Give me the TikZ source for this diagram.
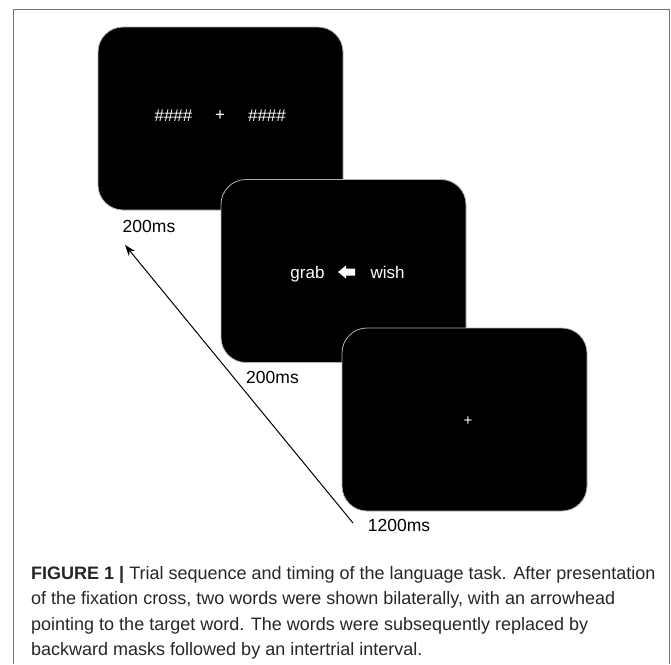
\documentclass[tikz,border=0pt]{standalone}
\usepackage{fontspec}
\setmainfont{Liberation Sans}
\usetikzlibrary{arrows.meta}
\begin{document}
\begin{tikzpicture}[x=1pt,y=-1pt,
  frameline/.style={draw=black!55,line width=1.3pt},
  screen/.style={fill=black,draw=black!30,line width=0.8pt,rounded corners=25pt,
    minimum width=245pt,minimum height=183pt,inner sep=0pt,outer sep=0pt},
  scrtext/.style={text=white,font=\fontsize{17}{20}\selectfont,inner sep=0pt},
  timelabel/.style={text=black,font=\fontsize{17.5}{21}\selectfont,inner sep=0pt},
  timearrow/.style={-{Stealth[length=11pt,width=8pt]},line width=1pt,black},
  captext/.style={anchor=base west,align=left,inner sep=0pt,text=black!85,
    font=\fontsize{18}{25.4}\selectfont}]
\useasboundingbox (0,0) rectangle (671,664);
% outer frame
\draw[frameline] (13.5,664) -- (13.5,9.5) -- (669.5,9.5) -- (669.5,664);
% screens
\node[screen] (s1) at (220.5,118.5) {};
\node[screen] (s2) at (343.5,271) {};
\node[screen] (s3) at (464.5,419.5) {};
% screen 1 content
\node[scrtext] (m1) at (173.5,116) {\#\#\#\#};
\node[scrtext] (c1) at (220,116) {+};
\node[scrtext] (m2) at (267,116) {\#\#\#\#};
% screen 2 content
\node[scrtext,anchor=base] (w1) at (307.5,278) {grab};
\node[scrtext,anchor=base] (w2) at (387.5,278) {wish};
\fill[white] (338,272) -- (346,265.5) -- (346,268.5) -- (355,268.5) -- (355,275.5)
  -- (346,275.5) -- (346,278.5) -- cycle;
% screen 3 content
\node[scrtext,font=\fontsize{15}{18}\selectfont] (c3) at (468,421) {+};
% time labels
\node[timelabel,anchor=base] (t1) at (149,232) {200ms};
\node[timelabel,anchor=base] (t2) at (272.5,383) {200ms};
\node[timelabel,anchor=base] (t3) at (399,531) {1200ms};
% time arrow
\coordinate (tail) at (353,523);
\coordinate (head) at (125,245);
\draw[timearrow] (tail) -- (head);
% caption (anchor = baseline of last line)
\node[captext] (cap) at (31,655.5) {\textbf{FIGURE 1 |} Trial sequence and timing of the language task. After presentation\\
of the fixation cross, two words were shown bilaterally, with an arrowhead\\
pointing to the target word. The words were subsequently replaced by\\
backward masks followed by an intertrial interval.};
\end{tikzpicture}
\end{document}
